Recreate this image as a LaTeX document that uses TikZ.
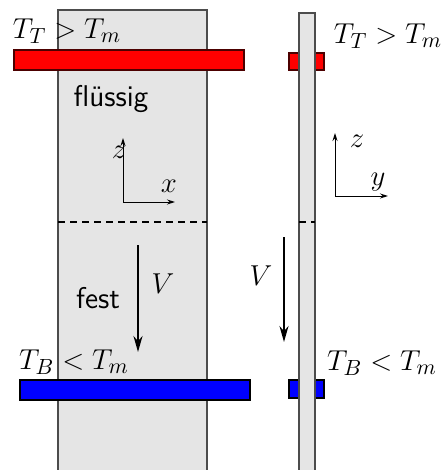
\documentclass[tikz,border=0pt]{standalone}
\usetikzlibrary{arrows.meta}
\begin{document}
\begin{tikzpicture}[x=0.5pt,y=-0.5pt,
  lbl/.style={inner sep=0pt,font=\fontsize{15}{18}\selectfont},
  sflbl/.style={inner sep=0pt,font=\fontsize{15}{18}\selectfont\sffamily},
  slab/.style={draw=black!70,line width=0.6pt,fill=black!10},
  hotbar/.style={draw=black!70!red,line width=0.6pt,fill=red},
  coldbar/.style={draw=black,line width=0.6pt,fill=blue},
  vel/.style={line width=1pt,-{Stealth[length=8pt,width=4.5pt]}},
  axis/.style={line width=0.5pt,-{Stealth[length=4pt,width=2.5pt]}},
  front/.style={line width=0.7pt,dashed,dash pattern=on 3.5pt off 2.5pt}]
\useasboundingbox (0,0) rectangle (444,470);
% left slab
\path[slab] (58,10) rectangle (207,475);
\path[hotbar] (14,50) rectangle (244,70);
\path[coldbar] (20,380) rectangle (250,400);
\node[lbl] (TtL) at (67,31) {$T_T > T_m$};
\node[lbl] (TbL) at (74,362) {$T_B < T_m$};
\node[sflbl] (fl) at (111,99) {flüssig};
\node[sflbl] (fe) at (98,298) {fest};
\coordinate (oL) at (123,202);
\coordinate (zL) at (123,138);
\coordinate (xL) at (175,202);
\draw[axis] (oL) -- (zL);
\draw[axis] (oL) -- (xL);
\node[lbl] (zlL) at (119,152) {$z$};
\node[lbl] (xlL) at (169,186) {$x$};
\coordinate (dL1) at (58,222);
\coordinate (dL2) at (207,222);
\draw[front] (dL1) -- (dL2);
\coordinate (vL1) at (138,245);
\coordinate (vL2) at (138,352);
\draw[vel] (vL1) -- (vL2);
\node[lbl] (VL) at (163,284) {$V$};
% right strip
\path[hotbar] (289,53) rectangle (324,70);
\path[coldbar] (289,380) rectangle (324,398);
\path[slab] (299,13) rectangle (315,475);
\node[lbl] (TtR) at (388,36) {$T_T > T_m$};
\node[lbl] (TbR) at (382,363) {$T_B < T_m$};
\coordinate (oR) at (335,196);
\coordinate (zR) at (335,133);
\coordinate (yR) at (388,196);
\draw[axis] (oR) -- (zR);
\draw[axis] (oR) -- (yR);
\node[lbl] (zlR) at (357,141) {$z$};
\node[lbl] (ylR) at (378,182) {$y$};
\coordinate (dR1) at (299,222);
\coordinate (dR2) at (315,222);
\draw[front] (dR1) -- (dR2);
\coordinate (vR1) at (284,237);
\coordinate (vR2) at (284,342);
\draw[vel] (vR1) -- (vR2);
\node[lbl] (VR) at (261,276) {$V$};
\end{tikzpicture}
\end{document}
